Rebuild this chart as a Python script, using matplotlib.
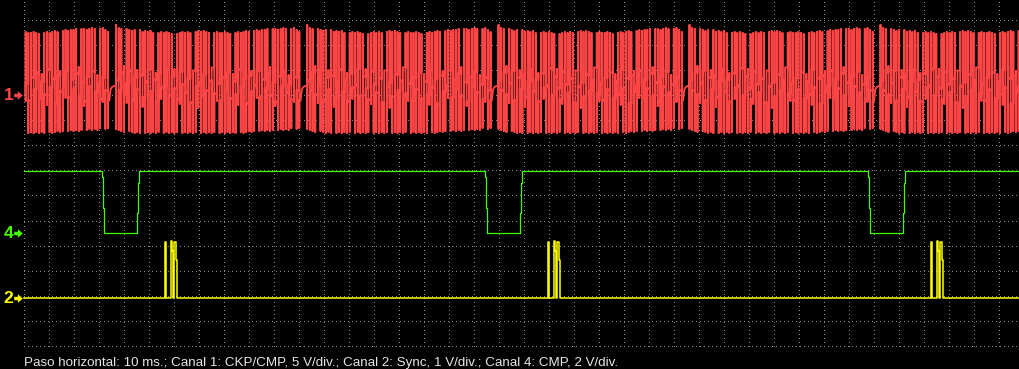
import numpy as np
import matplotlib
matplotlib.use("Agg")
import matplotlib.pyplot as plt
from matplotlib.path import Path
from matplotlib.transforms import offset_copy

# ------------------------------------------------------------------ data
footer = ("Paso horizontal: 10 ms.; Canal 1: CKP/CMP, 5 V/div.; "
          "Canal 2: Sync, 1 V/div.; Canal 4: CMP, 2 V/div.")
ms_per_div = 10
n_hdiv = 40          # vertical grid lines
n_vdiv = 14          # horizontal grid lines

# Channel 1: CKP/CMP, 5 V/div (36-1 tooth wheel)
ch1_label = "1"
ch1_offset_div = 10.0
ch1_volts_per_div = 5
rev_start_ms = [-39.9, 36.6, 113.1, 189.6, 266.0, 342.4]
bar_step_ms = 1.0625
rev_top = [14.2, 13.6, 13.4, 6.0, 13.4, 13.2, 13.0, 13.2, 5.2, 13.2,
           12.8, 13.0, 12.8, 13.0, 12.6, 4.6, 12.6, 12.8, 12.6, 12.8,
           12.6, 12.4, 5.4, 12.4, 12.6, 12.8, 12.6, 12.8, 12.6, 4.8,
           12.8, 13.0, 12.8, 13.0, 12.8, 12.6, 5.6, 12.6, 12.8, 12.6,
           12.6, 12.8, 12.6, 12.4, 4.4, 12.6, 12.8, 12.6, 12.8, 13.0,
           12.8, 5.0, 13.0, 13.2, 13.0, 13.2, 13.2, 13.4, 5.8, 13.4,
           13.4, 13.2, 13.4, 13.6, 13.4, 4.2, 13.4, 13.6, 13.2, 12.8]
rev_bot = [-6.8, -7.0, -7.2, -7.4, -1.6, -7.2, -7.4, -7.6, -7.4, -7.6,
           -2.4, -7.6, -7.4, -7.6, -7.4, -7.6, -7.4, -0.8, -7.6, -7.4,
           -7.6, -7.4, -7.6, -7.4, -1.8, -7.6, -7.4, -7.6, -7.4, -7.6,
           -7.4, -2.6, -7.6, -7.4, -7.6, -7.4, -7.6, -7.4, -1.2, -7.6,
           -7.4, -7.6, -7.4, -7.6, -7.4, -7.6, -2.0, -7.4, -7.6, -7.4,
           -7.2, -7.4, -7.2, -0.6, -7.2, -7.0, -7.2, -7.0, -7.2, -7.0,
           -2.2, -7.0, -6.8, -7.0, -6.8, -7.0, -6.6, -1.4, -6.8, -6.6]
rev_link = [3.0, 1.0, 4.6, 0.2, 2.4, 5.0, -1.0, 3.6, 1.2, 4.0,
            -0.4, 2.8, 5.2, 0.8, 3.2, -1.2, 4.4, 1.6, 2.0, 5.4,
            0.0, 3.8, 1.4, -0.8, 4.8, 2.2, 0.6, 3.4, -1.4, 5.0,
            1.8, 2.6, -0.2, 4.2, 1.0, 3.0, 5.6, 0.4, 2.4, -1.0,
            3.6, 1.2, 4.6, -0.6, 2.8, 0.2, 5.2, 1.6, 3.4, -1.6,
            4.0, 0.8, 2.0, 5.0, -0.4, 3.2, 1.4, 4.4, 0.0, 2.6,
            -1.2, 3.8, 1.8, 4.8, 0.6, 2.2, -0.8, 3.6, 1.0, -1.0]
gap_dt_ms = [0.5, 1.0, 1.6, 2.4]
gap_v = [-1.0, 1.2, 1.7, 1.9]

# Channel 4: CMP, 2 V/div
ch4_label = "4"
ch4_offset_div = 4.5
ch4_volts_per_div = 2
cmp_high_v = 4.92
cmp_fall_ms = [31.1, 184.3, 337.5]
cmp_edge_dt = [0.0, 0.0, 0.4, 0.4, 0.8, 0.8, 14.0, 14.0, 14.4, 14.4, 14.8, 14.8]
cmp_edge_v = [4.92, 4.5, 4.5, 2.0, 2.0, 0.0, 0.0, 1.6, 1.6, 4.0, 4.0, 4.92]

# Channel 2: Sync, 1 V/div
ch2_label = "2"
ch2_offset_div = 1.9
ch2_volts_per_div = 1
sync_cycle_ms = [0.0, 153.2, 306.4]
sync_t = [56.4, 56.4, 56.8, 56.8, 58.8, 58.8, 59.2, 59.2, 59.4, 59.4,
          59.9, 59.9, 60.5, 60.5, 60.9, 60.9]
sync_v = [0, 2.23, 2.23, 0, 0, 2.27, 2.27, 1.87, 1.87, 0,
          0, 2.23, 2.23, 1.54, 1.54, 0]

# ------------------------------------------------------------------ layout
W, H, DPI = 1019, 369, 100
PX_PER_DIV = 25.0
X0_PX = 24.5            # pixel of t = 0
Y0_PX = 345.5           # pixel row of division 0 (from top)
t_min = -X0_PX / PX_PER_DIV * ms_per_div
t_max = (W - X0_PX) / PX_PER_DIV * ms_per_div
d_min = (Y0_PX - H) / PX_PER_DIV
d_max = Y0_PX / PX_PER_DIV

RED = "#ff4545"
GREEN = "#44ff00"
YELLOW = "#ffff00"
GRID = "#8a8a8a"
TEXT = "#e6e6e6"

fig = plt.figure(figsize=(W / DPI, H / DPI), dpi=DPI, facecolor="black")
ax = fig.add_axes([0, 0, 1, 1])
ax.set_facecolor("black")
ax.set_xlim(t_min, t_max)
ax.set_ylim(d_min, d_max)
ax.axis("off")

# grid (dotted)
px = 72.0 / DPI
vx = [k * ms_per_div for k in range(n_hdiv)]
ax.vlines(vx, 0, d_max, colors=GRID, linewidth=px,
          linestyles=[(0, (1, 4))], antialiased=False, zorder=1)
hy = list(range(n_vdiv))
ax.hlines(hy, 0, t_max, colors=GRID, linewidth=px,
          linestyles=[(0, (1, 4))], antialiased=False, zorder=1)

# ---- channel 1 trace
xs, ys = [], []
prev = gap_v[-1]
for t0 in rev_start_ms:
    for i in range(len(rev_top)):
        t = t0 + i * bar_step_ms
        xs += [t, t, t, t]
        ys += [prev, rev_top[i], rev_bot[i], rev_link[i]]
        prev = rev_link[i]
    tl = t0 + (len(rev_top) - 1) * bar_step_ms
    for dt, v in zip(gap_dt_ms, gap_v):
        xs.append(tl + dt)
        ys.append(v)
    prev = gap_v[-1]
xs = np.array(xs)
ys = np.array(ys)
m = (xs >= 0) & (xs <= t_max)
ax.plot(xs[m], ch1_offset_div + ys[m] / ch1_volts_per_div,
        color=RED, linewidth=1.38, solid_joinstyle="miter",
        solid_capstyle="butt", zorder=3)

# ---- channel 4 trace
gx, gy = [0.0], [cmp_high_v]
for tf in cmp_fall_ms:
    for dt, v in zip(cmp_edge_dt, cmp_edge_v):
        gx.append(tf + dt)
        gy.append(v)
gx.append(t_max)
gy.append(cmp_high_v)
ax.plot(gx, ch4_offset_div + np.array(gy) / ch4_volts_per_div,
        color=GREEN, linewidth=0.9, zorder=4)

# ---- channel 2 trace
sx, sy = [0.0], [0.0]
for c in sync_cycle_ms:
    for t, v in zip(sync_t, sync_v):
        sx.append(t + c)
        sy.append(v)
sx.append(t_max)
sy.append(0.0)
ax.plot(sx, ch2_offset_div + np.array(sy) / ch2_volts_per_div,
        color=YELLOW, linewidth=1.1, zorder=5)

# ---- channel markers
arrow = Path([(-0.5, -0.2), (-0.07, -0.2), (-0.07, -0.5), (0.5, 0.0),
              (-0.07, 0.5), (-0.07, 0.2), (-0.5, 0.2), (-0.5, -0.2)],
             [Path.MOVETO] + [Path.LINETO] * 6 + [Path.CLOSEPOLY])
tr_arrow = offset_copy(ax.transData, fig=fig, x=-6.8, y=0, units="dots")
for lab, off, col in [(ch1_label, ch1_offset_div, RED),
                      (ch4_label, ch4_offset_div, GREEN),
                      (ch2_label, ch2_offset_div, YELLOW)]:
    ax.annotate(lab, xy=(0, off), xytext=(-21, -0.5),
                textcoords="offset pixels", ha="left", va="center",
                color=col, fontsize=12.5, fontweight="bold",
                family="Liberation Sans")
    ax.plot([0], [off], marker=arrow, markersize=6.2, color=col,
            markeredgewidth=0, linestyle="none", transform=tr_arrow,
            clip_on=False)

# ---- footer text
fig.text(X0_PX / W, 1 - 365.7 / H, footer, color=TEXT, fontsize=9.6,
         family="Liberation Sans", ha="left", va="baseline")

fig.savefig("out.png", dpi=DPI, facecolor="black")
